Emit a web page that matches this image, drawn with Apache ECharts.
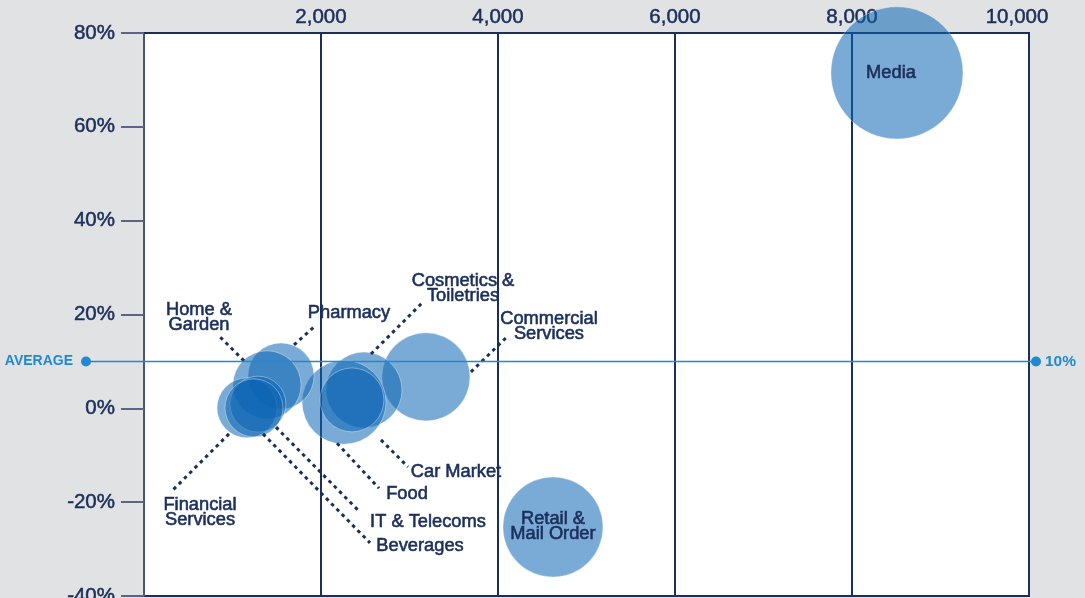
<!DOCTYPE html>
<html>
<head>
<meta charset="utf-8">
<script src="https://cdn.jsdelivr.net/npm/echarts@6/dist/echarts.min.js"></script>
<style>
html,body{margin:0;padding:0;background:#e1e2e4;}
#chart{width:1085px;height:598px;}
</style>
</head>
<body>
<div id="chart"></div>
<script>
// ---- data ----
const categories = ['Media','Retail &\nMail Order','Commercial\nServices','Cosmetics &\nToiletries','Food','Car Market','Pharmacy','Home &\nGarden','Financial\nServices','IT & Telecoms','Beverages'];
const xValues = [8508, 4621, 3186, 2486, 2260, 2350, 1548, 1390, 1164, 1288, 1243];
const yValues = [71.5, -25.3, 6.7, 3.9, 1.3, 1.8, 6.9, 5.0, 0.1, 0.9, 0.1];
const sizeValues = [436, 250, 194, 144, 176, 102, 109, 116, 90, 78, 84];
const xTicks = [0, 2000, 4000, 6000, 8000, 10000];
const yTicks = [-40, -20, 0, 20, 40, 60, 80];
const averageValue = 10;

// ---- layout (label offsets and leader segments relative to bubble centre) ----
const labelOffsets = {
  'Media':[-6,0], 'Retail &\nMail Order':[0,-1], 'Commercial\nServices':[123,-50],
  'Cosmetics &\nToiletries':[99,-102], 'Food':[63,92], 'Car Market':[104,72],
  'Pharmacy':[68,-63], 'Home &\nGarden':[-68,-67], 'Financial\nServices':[-47,105],
  'IT & Telecoms':[170,118], 'Beverages':[166,138]
};
const leaders = {
  'Home &\nGarden':[-23,-24,-49,-50], 'Pharmacy':[13,-31,34,-50],
  'Cosmetics &\nToiletries':[7,-36,59,-88], 'Commercial\nServices':[45,-5,81,-40],
  'Car Market':[29,40,56,67], 'Food':[-7,41,35,86], 'IT & Telecoms':[18,23,102,108],
  'Beverages':[9,26,116,135], 'Financial\nServices':[-18,26,-76,84]
};

const NAVY = '#1b2f5b';
const FONT = 'Liberation Sans';

const bubbleData = categories.map((c,i)=>({
  name:c, value:[xValues[i], yValues[i], sizeValues[i]],
  label:{offset:labelOffsets[c]}
}));
const leaderData = categories.map((c,i)=>[xValues[i], yValues[i], i]).filter(d=>leaders[categories[d[2]]]);

const xMax = xTicks[xTicks.length-1];
const chart = echarts.init(document.getElementById('chart'));
chart.setOption({
  backgroundColor:'#e1e2e4',
  animation:false,
  grid:{left:144,right:56,top:33,bottom:2,outerBoundsMode:'none',containLabel:false,show:true,backgroundColor:'#ffffff',borderColor:NAVY,borderWidth:2},
  xAxis:{
    type:'value', position:'top', min:xTicks[0], max:xMax, interval:2000,
    axisLine:{show:true,onZero:false,lineStyle:{color:NAVY,width:2}},
    axisTick:{show:false},
    splitLine:{show:true,lineStyle:{color:NAVY,width:2}},
    axisLabel:{margin:5,color:NAVY,fontFamily:FONT,fontSize:20.5,textBorderColor:NAVY,textBorderWidth:0.5,
      formatter:v=>v===0?'':(v===xMax?'{r|'+v.toLocaleString('en-US')+'}':v.toLocaleString('en-US')),
      rich:{r:{padding:[0,24,0,0],color:NAVY,fontFamily:FONT,fontSize:20.5,textBorderColor:NAVY,textBorderWidth:0.5}}}
  },
  yAxis:{
    type:'value', min:yTicks[0], max:yTicks[yTicks.length-1], interval:20,
    axisLine:{show:true,onZero:false,lineStyle:{color:'#5d6383',width:1.5}},
    axisTick:{show:true,length:23,lineStyle:{color:'#5d6383',width:2}},
    splitLine:{show:false},
    axisLabel:{margin:29,color:NAVY,fontFamily:FONT,fontSize:20.5,textBorderColor:NAVY,textBorderWidth:0.5,formatter:'{value}%'}
  },
  series:[
    {
      type:'scatter', clip:false, z:3,
      data:bubbleData,
      symbolSize:v=>2*Math.sqrt(v[2]*10),
      itemStyle:{color:'rgba(10,100,180,0.54)',opacity:1,borderColor:'rgba(255,255,255,0.35)',borderWidth:1},
      label:{show:true,position:'inside',formatter:p=>p.name,color:NAVY,fontFamily:FONT,fontSize:18.3,
        lineHeight:15,align:'center',textBorderColor:NAVY,textBorderWidth:0.6},
      emphasis:{disabled:true}
    },
    {
      type:'custom', z:4, clip:false, silent:true,
      data:leaderData,
      renderItem:(params,api)=>{
        const c = api.coord([api.value(0), api.value(1)]);
        const s = leaders[categories[api.value(2)]];
        return {type:'line', shape:{x1:c[0]+s[0],y1:c[1]+s[1],x2:c[0]+s[2],y2:c[1]+s[3]},
          style:{stroke:NAVY,lineWidth:3,lineDash:[3.5,4]}};
      }
    }
  ]
});

// average line (drawn from the library's y scale)
const yAvg = chart.convertToPixel({yAxisIndex:0}, averageValue);
const gx0 = chart.convertToPixel({xAxisIndex:0}, xTicks[0]);
const gx1 = chart.convertToPixel({xAxisIndex:0}, xMax);
const BLUE = '#2189d0';
chart.setOption({graphic:[
  {type:'line',z:100,shape:{x1:gx0-58,y1:yAvg,x2:gx1+7,y2:yAvg},style:{stroke:BLUE,lineWidth:1.5}},
  {type:'circle',z:100,shape:{cx:gx0-58,cy:yAvg,r:5},style:{fill:BLUE}},
  {type:'circle',z:100,shape:{cx:gx1+7,cy:yAvg,r:5},style:{fill:BLUE}},
  {type:'text',z:100,x:gx0-71,y:yAvg,style:{text:'AVERAGE',fill:BLUE,font:'bold 14px "Liberation Sans"',align:'right',verticalAlign:'middle'}},
  {type:'text',z:100,x:gx1+16,y:yAvg,style:{text:averageValue+'%',fill:BLUE,font:'bold 15.5px "Liberation Sans"',align:'left',verticalAlign:'middle'}}
]});
</script>
</body>
</html>
